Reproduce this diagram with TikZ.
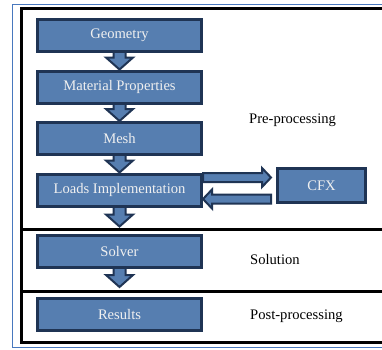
\documentclass[tikz,border=0pt]{standalone}
\usepackage{fontspec}
\setmainfont{Liberation Serif}
\usetikzlibrary{calc}
\pgfdeclarelayer{paper}
\pgfdeclarelayer{background}
\pgfsetlayers{paper,background,main}
\definecolor{boxfill}{RGB}{86,126,176}
\definecolor{boxedge}{RGB}{31,52,84}
\definecolor{outerblue}{RGB}{72,120,190}
\tikzset{
  stepbox/.style={draw=boxedge, fill=boxfill, line width=3pt, text=white!94!black,
    minimum width=164pt, minimum height=32pt, inner sep=0pt,
    font=\fontsize{14.6}{17}\selectfont},
  barrow/.style={draw=boxedge, fill=boxfill, line width=2pt, line join=miter},
  stage/.style={anchor=west, inner sep=0pt, font=\fontsize{14.6}{17}\selectfont},
}
% vertical block arrow: from the bottom of #1 down to the tip #2
\newcommand\downblock[2]{%
  \draw[barrow] ($(#1.south)+(-6,-2)$) -- ($(#2)+(-6,-12)$) -- ($(#2)+(-13.5,-12)$)
    -- (#2) -- ($(#2)+(13.5,-12)$) -- ($(#2)+(6,-12)$) -- ($(#1.south)+(6,-2)$) -- cycle;}
% horizontal block arrow from #1 to the tip #2; #3 = +1 (rightwards) or -1 (leftwards)
\newcommand\sideblock[3]{%
  \draw[barrow] ($(#1)+(0,-4.5)$) -- ($(#2)+(-9*#3,-4.5)$) -- ($(#2)+(-9*#3,-9.5)$)
    -- (#2) -- ($(#2)+(-9*#3,9.5)$) -- ($(#2)+(-9*#3,4.5)$) -- ($(#1)+(0,4.5)$) -- cycle;}
\begin{document}
\begin{tikzpicture}[x=1pt, y=-1pt]
  \useasboundingbox (0,0) rectangle (382,349);
  \clip (0,0) rectangle (382,349);
  \begin{pgfonlayer}{paper}
    \fill[white] (0,0) rectangle (382,349);
  \end{pgfonlayer}

  % outer thin border and the black frame with its stage dividers
  \draw[outerblue, line width=1pt] (12.5,4.5) rectangle (400,347.5);
  \draw[black, line width=3pt] (21.5,8.5) rectangle (400,342.5);
  \draw[black, line width=3pt] (21.5,229) -- (400,229);
  \draw[black, line width=3pt] (21.5,291.5) -- (400,291.5);

  % process steps
  \node[stepbox] (geo)     at (119.5,35.5)  {Geometry};
  \node[stepbox] (mat)     at (119.5,87)    {Material Properties};
  \node[stepbox] (mesh)    at (119.5,138.5) {Mesh};
  \node[stepbox] (loads)   at (119.5,190)   {Loads Implementation};
  \node[stepbox] (solver)  at (119.5,251)   {Solver};
  \node[stepbox] (results) at (119.5,314.5) {Results};
  \node[stepbox, minimum width=88pt, minimum height=34pt] (cfx) at (321.5,185.5) {CFX};

  % stage labels
  \node[stage] (pre)  at (249,120) {Pre-processing};
  \node[stage] (sol)  at (250,259) {Solution};
  \node[stage] (post) at (250,316) {Post-processing};

  % tips of the arrows that stop short of the next box
  \coordinate (t4) at ($(solver.north)+(0,-7)$);
  \coordinate (t5) at ($(results.north)+(0,-10)$);
  % ends of the two-way link with CFX
  \coordinate (r0) at ($(loads.east)+(0,-12.5)$);
  \coordinate (r1) at ($(cfx.west)+(-5,-8)$);
  \coordinate (l0) at ($(cfx.west)+(-5,13.5)$);
  \coordinate (l1) at ($(loads.east)+(0,9)$);

  \begin{pgfonlayer}{background}
    \downblock{geo}{mat.north}
    \downblock{mat}{mesh.north}
    \downblock{mesh}{loads.north}
    \downblock{loads}{t4}
    \downblock{solver}{t5}
    \sideblock{r0}{r1}{1}
    \sideblock{l0}{l1}{-1}
  \end{pgfonlayer}
\end{tikzpicture}
\end{document}
